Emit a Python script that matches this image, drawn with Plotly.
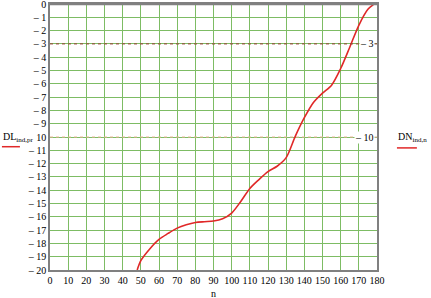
import plotly.graph_objects as go

n_vals = [48, 50, 55, 60, 65, 70, 75, 80, 85, 90, 95, 100, 105, 110, 115, 120,
          125, 130, 135, 140, 145, 150, 155, 160, 165, 170, 175, 178]
dn_vals = [-20.0, -19.3, -18.4, -17.7, -17.25, -16.85, -16.6, -16.43, -16.37, -16.32,
           -16.15, -15.72, -14.85, -13.87, -13.2, -12.6, -12.2, -11.55, -9.95, -8.55,
           -7.4, -6.7, -6.1, -4.85, -3.25, -1.6, -0.4, -0.05]
x_ticks = list(range(0, 181, 10))
y_ticks = list(range(0, -21, -1))
y_ticktext = ["0"] + [("%d" % abs(v)) if v == -10 else ("\u2013 %d" % abs(v)) for v in y_ticks[1:]]
marker_levels = [-3, -10]
marker_labels = ["\u2013 3", "\u2013 10"]

FONT = "Liberation Serif"
FS = 10
grid_col = "rgb(125,188,100)"

fig = go.Figure()
fig.add_trace(go.Scatter(x=n_vals, y=dn_vals, mode="lines",
                         line=dict(color="#e02828", width=1.6, shape="spline", smoothing=0.8),
                         showlegend=False, hoverinfo="skip"))

# horizontal marker lines
fig.add_hline(y=marker_levels[0], line=dict(color="rgb(150,60,50)", width=1, dash="dot"))
fig.add_hline(y=marker_levels[1], line=dict(color="rgb(235,180,150)", width=1, dash="dot"))

for lv, txt in zip(marker_levels, marker_labels):
    fig.add_annotation(x=179, y=lv, text=txt, showarrow=False, xanchor="right",
                       yanchor="middle", font=dict(family=FONT, size=FS, color="#000"),
                       bgcolor="white", borderpad=0)

# legend-like labels
fig.add_annotation(xref="paper", yref="paper", x=-0.147, y=0.5, text="DL<sub>ind,pr</sub>",
                   showarrow=False, xanchor="left", yanchor="middle", align="left",
                   borderpad=0, font=dict(family=FONT, size=FS, color="#000"))
fig.add_annotation(xref="paper", yref="paper", x=1.06, y=0.5, text="DN<sub>ind,n</sub>",
                   showarrow=False, xanchor="left", yanchor="middle", align="left",
                   borderpad=0, font=dict(family=FONT, size=FS, color="#000"))
fig.add_shape(type="line", xref="paper", yref="paper", x0=-0.147, x1=-0.092, y0=0.4635, y1=0.4635,
              line=dict(color="#e02828", width=1.5))
fig.add_shape(type="line", xref="paper", yref="paper", x0=1.061, x1=1.122, y0=0.459, y1=0.459,
              line=dict(color="#e02828", width=1.5))

# axis title
fig.add_annotation(xref="paper", yref="paper", x=0.5, y=0, yshift=-23, text="n",
                   showarrow=False, xanchor="center", yanchor="middle",
                   font=dict(family=FONT, size=FS, color="#000"))

fig.update_xaxes(range=[0, 180], tickvals=x_ticks, ticktext=[str(v) for v in x_ticks],
                 showgrid=True, gridcolor=grid_col, gridwidth=1, zeroline=False,
                 showline=True, linecolor="#808080", linewidth=1.5, mirror=True,
                 automargin=False, ticklabeloverflow="allow",
                 ticks="", tickangle=0, tickfont=dict(family=FONT, size=FS, color="#000"))
fig.update_yaxes(range=[-20, 0], tickvals=y_ticks, ticktext=y_ticktext,
                 showgrid=True, gridcolor=grid_col, gridwidth=1, zeroline=False,
                 showline=True, linecolor="#808080", linewidth=1.5, mirror=True,
                 automargin=False, ticklabeloverflow="allow",
                 ticks="", tickfont=dict(family=FONT, size=FS, color="#000"))
fig.add_hline(y=0, line=dict(color="#808080", width=2.5))

fig.update_layout(width=431, height=298, margin=dict(l=50, r=54, t=4, b=28, autoexpand=False),
                  paper_bgcolor="white", plot_bgcolor="white", showlegend=False)
fig.write_html("out.html", config={"displayModeBar": False},
               post_script="document.body.style.margin='0';document.body.style.overflow='hidden';")
